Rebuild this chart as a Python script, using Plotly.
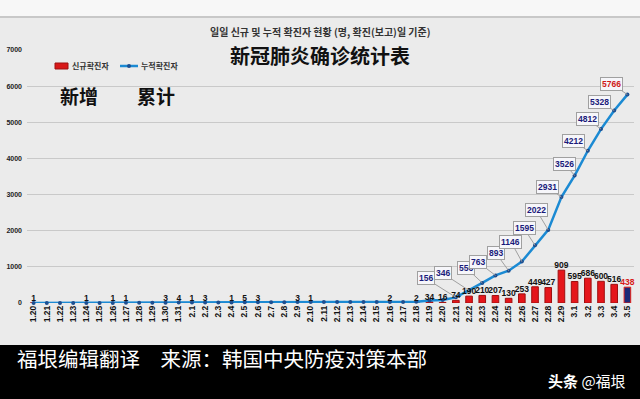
import plotly.graph_objects as go

dates = ["1.20", "1.21", "1.22", "1.23", "1.24", "1.25", "1.26", "1.27", "1.28", "1.29", "1.30", "1.31",
         "2.1", "2.2", "2.3", "2.4", "2.5", "2.6", "2.7", "2.8", "2.9", "2.10", "2.11", "2.12", "2.13",
         "2.14", "2.15", "2.16", "2.17", "2.18", "2.19", "2.20", "2.21", "2.22", "2.23", "2.24", "2.25",
         "2.26", "2.27", "2.28", "2.29", "3.1", "3.2", "3.3", "3.4", "3.5"]
daily_new = [1, 0, 0, 0, 1, 0, 1, 1, 0, 0, 3, 4,
             1, 3, 0, 1, 5, 3, 0, 0, 3, 1, 0, 0, 0,
             0, 0, 2, 0, 2, 34, 16, 74, 190, 210, 207, 130,
             253, 449, 427, 909, 595, 686, 600, 516, 438]
cumulative = [1, 1, 1, 1, 2, 2, 3, 4, 4, 4, 7, 11,
              12, 15, 15, 16, 21, 24, 24, 24, 27, 28, 28, 28, 28,
              28, 28, 30, 30, 32, 66, 82, 156, 346, 556, 763, 893,
              1146, 1595, 2022, 2931, 3526, 4212, 4812, 5328, 5766]
boxed_dates = ["2.21", "2.22", "2.23", "2.24", "2.25", "2.26", "2.27", "2.28", "2.29",
               "3.1", "3.2", "3.3", "3.4", "3.5"]
y_ticks = [0, 1000, 2000, 3000, 4000, 5000, 6000, 7000]

W, H = 640, 399
ML, MR, MT, MB = 27, 6, 50, 96
PW, PH = W - ML - MR, H - MT - MB


def px(xpix):
    return (xpix - ML) / PW


def py(ypix):
    return (H - MB - ypix) / PH


n = len(dates)
idx = list(range(n))
bar_fill = ["#e5161b"] * (n - 1) + ["#1c2a78"]
bar_line = ["#9e1010"] * (n - 1) + ["#e3201b"]
txt_col = ["#111111"] * (n - 1) + ["#d81818"]

fig = go.Figure()
fig.add_trace(go.Bar(x=idx, y=daily_new, width=0.5,
                     marker=dict(color=bar_fill, line=dict(color=bar_line, width=1)),
                     showlegend=False))
fig.add_trace(go.Scatter(x=idx, y=cumulative, mode="lines+markers",
                         line=dict(color="#1b8ad3", width=2.5),
                         marker=dict(size=4, color="#1d4f91"),
                         cliponaxis=False, showlegend=False))
fig.add_trace(go.Scatter(x=idx, y=daily_new, mode="text",
                         text=[str(v) if v else "" for v in daily_new],
                         textposition="top center",
                         textfont=dict(size=8.5, color=txt_col, family="Liberation Sans", weight="bold"),
                         cliponaxis=False, showlegend=False))

offsets = [(-30, -19), (-26, -17), (-16, -15), (-17, -13), (-13, -18), (-11, -20), (-11, -17),
           (-12, -20), (-14, -10), (-10, -12), (-14, -10), (-14, -10), (-15, -8), (-16, -11)]
annotations = []
for d, (ax, ay) in zip(boxed_dates, offsets):
    i = dates.index(d)
    annotations.append(dict(
        x=i, y=cumulative[i], xref="x", yref="y", text=str(cumulative[i]),
        showarrow=True, ax=ax, ay=ay, arrowhead=0, arrowwidth=1, arrowcolor="#a0a0a0",
        standoff=0, bgcolor="#f6f6fa", bordercolor="#a0a0a0", borderwidth=1, borderpad=1,
        font=dict(size=8.5, family="Liberation Sans", weight="bold",
                  color="#d01818" if d == "3.5" else "#1a1a7a")))


def label(xp, yp, text, size, color, family="Noto Sans CJK SC", weight="bold", xanchor="center"):
    return dict(x=px(xp), y=py(yp), xref="paper", yref="paper", showarrow=False,
                xanchor=xanchor, yanchor="middle", text=text,
                font=dict(size=size, family=family, weight=weight, color=color))


annotations += [
    label(320, 32, "일일 신규 및 누적 확진자 현황 (명, 확진(보고)일 기준)", 10, "#333333",
          family="Noto Sans CJK KR"),
    label(320, 55, "新冠肺炎确诊统计表", 20, "#111111"),
    label(79, 95, "新增", 19, "#111111"),
    label(156, 95, "累计", 19, "#111111"),
    label(70, 66, "신규확진자", 8, "#333333", family="Noto Sans CJK KR", xanchor="left"),
    label(139, 66, "누적확진자", 8, "#333333", family="Noto Sans CJK KR", xanchor="left"),
    label(15, 358, "福垠编辑翻译\u3000来源：韩国中央防疫对策本部", 20.5, "#ffffff",
          weight="normal", xanchor="left"),
    label(628, 380, "<b>头条</b> @福垠", 15, "#ffffff", weight="normal", xanchor="right"),
]

shapes = [
    dict(type="rect", xref="paper", yref="paper", x0=px(0), x1=px(W), y0=py(0), y1=py(16),
         fillcolor="#f7f7f7", line=dict(width=0), layer="below"),
    dict(type="line", xref="paper", yref="paper", x0=px(0), x1=px(W), y0=py(17), y1=py(17),
         line=dict(color="#bdbdbd", width=1.5)),
    dict(type="rect", xref="paper", yref="paper", x0=px(55), x1=px(68), y0=py(63), y1=py(69),
         fillcolor="#d81818", line=dict(color="#9e1010", width=1)),
    dict(type="line", xref="paper", yref="paper", x0=px(120), x1=px(138), y0=py(66), y1=py(66),
         line=dict(color="#1b8ad3", width=2.5)),
    dict(type="circle", xref="paper", yref="paper", x0=px(127), x1=px(131), y0=py(64), y1=py(68),
         fillcolor="#1d4f91", line=dict(width=0)),
    dict(type="rect", xref="paper", yref="paper", x0=px(0), x1=px(W), y0=py(345), y1=py(H),
         fillcolor="#000000", line=dict(width=0), layer="above"),
]

fig.update_layout(
    width=W, height=H, margin=dict(l=ML, r=MR, t=MT, b=MB),
    paper_bgcolor="#ebebeb", plot_bgcolor="#ebebeb",
    showlegend=False, bargap=0.5,
    annotations=annotations, shapes=shapes,
    xaxis=dict(range=[-0.5, n - 0.5], tickangle=-90, showgrid=False,
               tickmode="array", tickvals=idx, ticktext=dates, ticks="",
               tickfont=dict(size=8.5, family="Liberation Sans", weight="bold", color="#111111"),
               showline=False, zeroline=False),
    yaxis=dict(range=[0, 7000], tickvals=y_ticks, showgrid=True, gridcolor="#c9c9c9", gridwidth=1,
               zeroline=False, ticks="", ticklabelstandoff=4,
               tickfont=dict(size=7, family="Liberation Sans", weight="bold", color="#222222")),
)

fig.write_html("out.html", config={"displayModeBar": False},
               post_script="document.body.style.margin='0';document.body.style.overflow='hidden';")
